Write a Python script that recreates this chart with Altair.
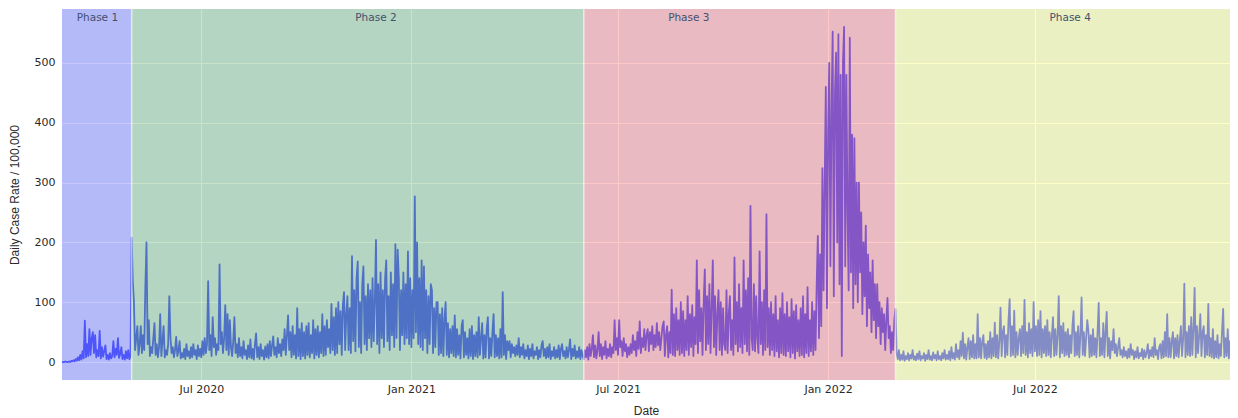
import altair as alt
import pandas as pd

# ---- daily case-rate values (per 100,000), one value per day ----
phase1_start = "2020-03-01"
phase1_values = [
    0, 0, 0, 1, 0, 0, 1, 0, 2, 1,
    3, 1, 5, 2, 8, 3, 12, 4, 18, 6,
    69, 8, 30, 10, 55, 12, 40, 50, 15, 45,
    8, 20, 10, 52, 6, 25, 9, 18, 28, 5,
    12, 4, 15, 6, 10, 35, 8, 22, 12, 40,
    7, 14, 25, 5, 12, 4, 18, 6, 20, 5,
    10,
]

phase2_start = "2020-05-01"
phase2_values = [
    208, 135, 100, 20, 40, 60, 12, 30, 60, 15,
    45, 20, 125, 200, 30, 70, 10, 25, 15, 40,
    65, 12, 30, 8, 25, 80, 10, 35, 60, 8,
    20, 12, 30, 110, 40, 15, 25, 8, 20, 42,
    10, 18, 35, 6, 15, 8, 22, 5, 30, 10,
    18, 6, 25, 8, 30, 12, 20, 5, 28, 10,
    22, 8, 35, 12, 40, 15, 30, 135, 20, 45,
    10, 75, 25, 40, 12, 30, 20, 163, 30, 50,
    15, 40, 95, 20, 80, 12, 70, 25, 10, 35,
    75, 15, 30, 8, 40, 10, 25, 6, 35, 12,
    20, 5, 28, 8, 38, 6, 22, 4, 30, 48,
    8, 25, 5, 30, 10, 20, 4, 26, 8, 30,
    6, 35, 10, 28, 43, 12, 25, 8, 40, 15,
    30, 10, 38, 20, 55, 12, 45, 78, 20, 50,
    8, 60, 12, 45, 6, 90, 10, 55, 5, 65,
    10, 50, 6, 60, 12, 65, 8, 45, 15, 70,
    6, 55, 12, 60, 8, 50, 15, 80, 10, 60,
    12, 70, 25, 55, 15, 97, 20, 75, 12, 90,
    15, 100, 30, 85, 12, 95, 117, 20, 80, 110,
    20, 90, 15, 177, 35, 120, 18, 140, 168, 25,
    100, 15, 130, 160, 30, 110, 20, 130, 40, 120,
    25, 140, 35, 100, 204, 30, 130, 15, 150, 40,
    120, 25, 140, 170, 35, 110, 20, 150, 45, 130,
    25, 197, 40, 188, 140, 20, 120, 45, 150, 30,
    130, 40, 185, 30, 140, 25, 120, 40, 277, 50,
    200, 30, 140, 25, 170, 20, 160, 40, 120, 15,
    110, 30, 130, 120, 15, 90, 25, 100, 100, 12,
    80, 15, 90, 10, 70, 100, 12, 65, 8, 55,
    15, 60, 10, 78, 8, 55, 12, 45, 6, 60,
    70, 8, 50, 12, 40, 6, 55, 10, 60, 5,
    45, 10, 50, 8, 75, 12, 40, 65, 6, 45,
    8, 55, 75, 6, 40, 10, 50, 80, 8, 45,
    10, 40, 6, 55, 8, 117, 12, 45, 5, 35,
    20, 35, 8, 30, 15, 25, 10, 28, 12, 40,
    8, 25, 12, 30, 6, 20, 10, 28, 5, 22,
    10, 30, 6, 18, 12, 25, 5, 20, 8, 28,
    35, 10, 22, 6, 25, 8, 30, 5, 18, 10,
    25, 6, 20, 8, 28, 5, 22, 30, 10, 18,
    6, 25, 8, 20, 38, 5, 22, 10, 28, 6,
    18, 8, 25, 5, 20, 10,
]

phase3_start = "2021-06-01"
phase3_values = [
    5, 20, 8, 25, 4, 30, 10, 22, 45, 8,
    28, 6, 20, 50, 10, 30, 5, 25, 12, 35,
    6, 22, 10, 30, 8, 25, 15, 70, 20, 40,
    12, 70, 25, 35, 10, 40, 18, 30, 8, 25,
    12, 30, 15, 45, 20, 35, 10, 50, 22, 68,
    15, 40, 25, 55, 20, 45, 55, 18, 50, 30,
    60, 20, 45, 25, 65, 28, 50, 20, 40, 60,
    68, 10, 45, 60, 8, 50, 15, 121, 12, 80,
    10, 90, 20, 70, 12, 100, 15, 85, 10, 70,
    20, 110, 12, 80, 25, 95, 10, 75, 30, 170,
    15, 120, 35, 90, 12, 100, 155, 20, 110, 30,
    130, 15, 90, 170, 25, 110, 12, 80, 120, 20,
    100, 12, 90, 30, 20, 120, 15, 80, 110, 20,
    70, 12, 175, 30, 100, 18, 130, 25, 90, 15,
    170, 30, 120, 18, 140, 12, 261, 40, 20, 130,
    18, 110, 40, 15, 185, 30, 100, 12, 120, 20,
    247, 25, 90, 12, 100, 20, 80, 10, 110, 18,
    70, 8, 90, 15, 115, 12, 80, 10, 100, 18,
    75, 8, 105, 15, 85, 6, 95, 18, 70, 10,
    90, 12, 110, 8, 80, 15, 125, 10, 70, 18,
    100, 12, 85, 20, 130, 211, 40, 180, 60, 324,
    120, 300, 460, 90, 380, 500, 160, 420, 552, 110,
    450, 517, 200, 548, 130, 480, 10, 500, 560, 160,
    480, 250, 120, 542, 150, 380, 90, 374, 130, 300,
    100, 300, 150, 250, 80, 200, 110, 228, 60, 180,
    90, 150, 50, 170, 70, 130, 40, 130, 60, 100,
    30, 90, 50, 80, 20, 70, 107, 40, 60, 15,
    50, 20, 70,
]

phase4_start = "2022-03-01"
phase4_values = [
    89, 15, 5, 20, 3, 12, 4, 18, 2, 10,
    5, 15, 3, 12, 6, 20, 4, 10, 3, 14,
    5, 18, 3, 10, 6, 15, 2, 12, 5, 20,
    4, 10, 3, 16, 6, 12, 3, 18, 5, 10,
    3, 15, 6, 20, 4, 12, 5, 18, 3, 25,
    6, 15, 4, 30, 8, 20, 5, 35, 10, 49,
    6, 30, 4, 25, 40, 5, 35, 8, 45, 6,
    30, 6, 80, 8, 40, 6, 35, 45, 7, 30,
    5, 35, 8, 50, 6, 40, 10, 66, 8, 45,
    6, 35, 91, 10, 50, 60, 8, 45, 12, 70,
    105, 10, 60, 12, 86, 8, 50, 12, 40, 55,
    10, 60, 15, 104, 12, 50, 8, 65, 15, 55,
    10, 100, 18, 60, 10, 70, 12, 85, 8, 55,
    15, 60, 10, 70, 12, 50, 8, 45, 75, 10,
    55, 12, 45, 110, 8, 60, 15, 65, 10, 50,
    12, 55, 8, 45, 15, 60, 85, 10, 50, 12,
    60, 8, 45, 108, 12, 50, 10, 40, 70, 52,
    8, 45, 10, 55, 12, 40, 8, 50, 99, 10,
    40, 12, 65, 8, 50, 84, 10, 40, 6, 35,
    20, 55, 15, 30, 10, 25, 40, 12, 20, 8,
    25, 10, 18, 6, 22, 8, 30, 12, 20, 5,
    18, 8, 25, 6, 15, 10, 22, 5, 20, 8,
    15, 30, 6, 20, 10, 25, 8, 40, 12, 20,
    5, 25, 30, 6, 35, 8, 50, 10, 80, 8,
    40, 8, 35, 50, 6, 40, 10, 45, 8, 35,
    60, 10, 40, 131, 8, 50, 12, 60, 10, 75,
    12, 55, 124, 8, 60, 15, 45, 80, 10, 50,
    60, 8, 45, 12, 97, 10, 40, 8, 55, 6,
    35, 8, 45, 6, 30, 10, 50, 89, 8, 40,
    10, 55, 6, 35, 8, 30, 5, 25, 8, 30,
    25,
]

# ---- phases ----
phase_names = ["Phase 1", "Phase 2", "Phase 3", "Phase 4"]
phase_starts = ["2020-03-01", "2020-05-01", "2021-06-01", "2022-03-01"]
phase_ends = ["2020-05-01", "2021-06-01", "2022-03-01", "2022-12-26"]
phase_colors = ["blue", "green", "red", "yellow"]
phase_label_dates = ["2020-04-01", "2020-12-01", "2021-09-01", "2022-08-01"]
boundary_dates = ["2020-05-01", "2021-06-01", "2022-03-01"]

x_tick_dates = ["2020-07-01", "2021-01-01", "2021-07-01", "2022-01-01", "2022-07-01"]
y_ticks = [0, 100, 200, 300, 400, 500]
x_domain = ["2020-03-01", "2022-12-19"]
y_domain = [-30, 590]

W, H = 1168, 371


def ms(d):
    return int(pd.Timestamp(d, tz="UTC").value // 10**6)


def frame(start, values):
    dates = pd.date_range(start, periods=len(values), freq="D").strftime("%Y-%m-%d")
    return pd.DataFrame({"date": list(dates), "rate": values})


line_df = pd.concat(
    [
        frame(phase1_start, phase1_values),
        frame(phase2_start, phase2_values),
        frame(phase3_start, phase3_values),
        frame(phase4_start, phase4_values),
    ],
    ignore_index=True,
)

rect_df = pd.DataFrame(
    {"date": phase_starts, "date_end": phase_ends, "color": phase_colors}
)
label_df = pd.DataFrame({"date": phase_label_dates, "name": phase_names})
bound_df = pd.DataFrame({"date": boundary_dates})

x_scale = alt.Scale(type="utc", domain=[ms(d) for d in x_domain], nice=False)
x_axis = alt.Axis(
    values=[ms(d) for d in x_tick_dates],
    labelExpr="utcFormat(datum.value, '%b %Y')",
    title="Date",
    titleFont="Liberation Sans",
    titleFontSize=12,
    titleFontWeight="normal",
    titleColor="#2a2a2a",
    titlePadding=11,
    labelFont="DejaVu Sans",
    labelFontSize=11,
    labelColor="#2a2a2a",
    labelPadding=3,
    grid=True,
    gridColor="white",
    gridWidth=1,
    domain=False,
    ticks=False,
)
x_enc = alt.X("date:T", scale=x_scale, axis=x_axis)

line = (
    alt.Chart(line_df)
    .mark_line(color="#636efa", strokeWidth=1.8, strokeJoin="round", clip=True)
    .encode(
        x=x_enc,
        y=alt.Y(
            "rate:Q",
            scale=alt.Scale(domain=y_domain, nice=False, zero=False),
            axis=alt.Axis(
                values=y_ticks,
                title="Daily Case Rate / 100,000",
                titleFont="Liberation Sans",
                titleFontSize=12,
                titleFontWeight="normal",
                titleColor="#2a2a2a",
                titlePadding=13,
                labelFont="DejaVu Sans",
                labelFontSize=11,
                labelColor="#2a2a2a",
                labelPadding=7,
                grid=True,
                gridColor="white",
                gridWidth=1,
                domain=False,
                ticks=False,
            ),
        ),
    )
)

rects = (
    alt.Chart(rect_df)
    .mark_rect(opacity=0.21, clip=True)
    .encode(
        x=x_enc,
        x2="date_end:T",
        y=alt.value(0),
        y2=alt.value(H),
        color=alt.Color("color:N", scale=None),
    )
)

bounds = (
    alt.Chart(bound_df)
    .mark_rule(color="white", strokeWidth=1.5, opacity=0.6)
    .encode(x=x_enc, y=alt.value(0), y2=alt.value(H))
)

labels = (
    alt.Chart(label_df)
    .mark_text(font="DejaVu Sans", fontSize=10.5, color="#44506e", baseline="middle")
    .encode(x=x_enc, y=alt.value(9), text="name:N")
)

chart = (
    alt.layer(line, rects, bounds, labels)
    .properties(width=W, height=H, padding={"left": 0, "right": 0, "top": 0, "bottom": 0})
    .configure_view(fill="#E5ECF6", stroke=None)
)

chart.save("out.html", embed_options={"renderer": "svg", "actions": False})
